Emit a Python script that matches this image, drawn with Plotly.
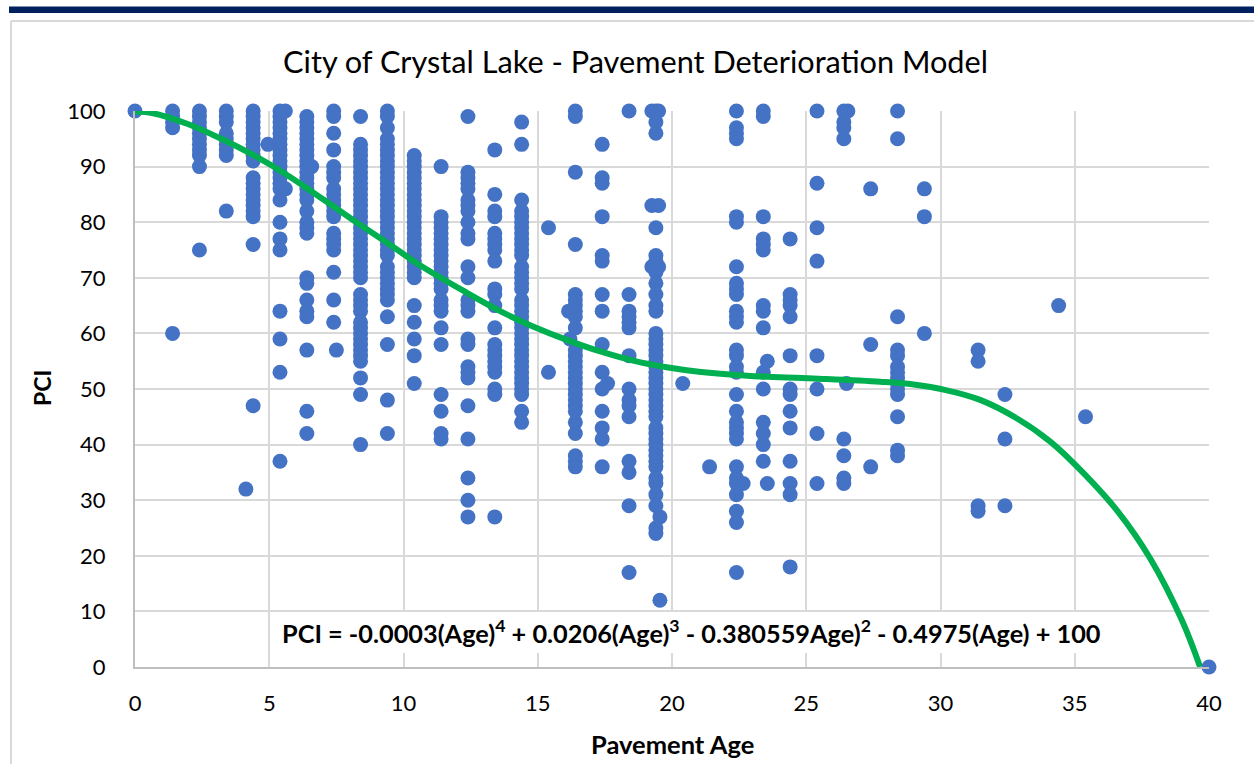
import plotly.graph_objects as go

W, H = 1254, 764
L, R, T, B = 135, 1209, 111, 667

pci_00 = [100]
pci_01 = [100, 99, 98, 97, 60]
pci_02 = [100, 99, 98, 97, 96, 95, 94, 93, 92, 90, 75]
pci_03 = [100, 99, 98, 96, 95, 94, 93, 92, 82]
pci_04 = [100, 99, 98, 97, 96, 95, 94, 93, 92, 91, 88, 87, 86, 85, 84, 83, 82, 81, 76, 47]
pci_05 = [100, 99, 98, 97, 96, 95, 94, 93, 92, 91, 90, 89, 88, 87, 86, 84, 80, 77, 75, 64, 59, 53, 37]
pci_06 = [99, 98, 97, 96, 95, 94, 93, 92, 91, 90, 89, 88, 87, 86, 85, 84, 82, 80, 79, 78, 70, 69, 66, 64, 63, 57, 46, 42]
pci_07 = [100, 99, 96, 93, 90, 89, 88, 86, 85, 84, 83, 82, 81, 78, 77, 76, 75, 71, 66, 62]
pci_08 = [99, 94, 93, 92, 91, 90, 89, 88, 87, 86, 85, 84, 83, 82, 81, 80, 79, 78, 77, 76, 75, 74, 73, 72, 71, 70, 67, 66, 65, 64, 62, 61, 60, 59, 58, 57, 56, 55, 52, 49, 40]
pci_09 = [100, 99, 97, 95, 94, 93, 92, 91, 90, 89, 88, 87, 86, 85, 84, 83, 82, 81, 80, 79, 78, 77, 76, 75, 74, 72, 71, 70, 69, 68, 67, 66, 63, 58, 48, 42]
pci_10 = [92, 91, 90, 89, 88, 87, 86, 85, 84, 83, 82, 81, 80, 79, 78, 77, 76, 75, 74, 73, 72, 71, 70, 65, 62, 59, 56, 51]
pci_11 = [90, 81, 80, 79, 78, 77, 76, 75, 74, 73, 72, 71, 70, 69, 68, 66, 65, 64, 61, 58, 49, 46, 42, 41]
pci_12 = [99, 89, 88, 87, 86, 84, 83, 82, 80, 78, 77, 72, 70, 66, 65, 64, 59, 58, 54, 53, 52, 47, 41, 34, 30, 27]
pci_13 = [93, 85, 82, 81, 78, 77, 76, 75, 73, 68, 67, 65, 61, 58, 57, 56, 55, 54, 53, 50, 49, 27]
pci_14 = [98, 94, 84, 82, 81, 80, 79, 78, 77, 76, 75, 74, 72, 71, 70, 69, 68, 66, 65, 64, 63, 62, 61, 60, 59, 58, 57, 56, 55, 54, 53, 52, 51, 50, 49, 46, 44]
pci_15 = [79, 53]
pci_16 = [100, 99, 89, 76, 67, 66, 65, 64, 63, 61, 57, 56, 55, 54, 53, 52, 51, 50, 49, 48, 47, 46, 44, 42, 38, 37, 36]
pci_17 = [94, 88, 87, 81, 74, 73, 67, 64, 58, 53, 50, 46, 43, 41, 36]
pci_18 = [100, 67, 64, 63, 62, 61, 56, 50, 48, 47, 45, 37, 35, 29, 17]
pci_19 = [100, 98, 96, 79, 74, 73, 71, 69, 67, 65, 64, 60, 59, 58, 57, 56, 55, 54, 53, 52, 51, 50, 49, 48, 47, 46, 45, 43, 42, 41, 40, 39, 38, 37, 36, 34, 33, 31, 29, 25, 24]
pci_20 = [51]
pci_21 = [36]
pci_22 = [100, 97, 96, 95, 81, 80, 72, 69, 68, 67, 64, 63, 62, 57, 56, 54, 53, 49, 46, 44, 43, 42, 41, 36, 34, 33, 31, 28, 26, 17]
pci_23 = [100, 99, 81, 77, 76, 75, 65, 64, 61, 53, 50, 44, 42, 40, 37]
pci_24 = [77, 67, 66, 65, 63, 56, 50, 49, 46, 43, 37, 33, 31, 18]
pci_25 = [100, 87, 79, 73, 56, 50, 42, 33]
pci_26 = [100, 98, 97, 95, 41, 38, 34, 33]
pci_27 = [86, 58, 36]
pci_28 = [100, 95, 63, 57, 56, 54, 53, 52, 51, 50, 49, 45, 39, 38]
pci_29 = [86, 81, 60]
pci_31 = [57, 55, 29, 28]
pci_32 = [49, 41, 29]
pci_34 = [65]
pci_35 = [45]

column_ages = [1.4, 2.4, 3.4, 4.4, 5.4, 6.4, 7.4, 8.4, 9.4, 10.4, 11.4, 12.4, 13.4, 14.4,
               15.4, 16.4, 17.4, 18.4, 19.4, 20.4, 21.4, 22.4, 23.4, 24.4, 25.4, 26.4, 27.4,
               28.4, 29.4, 31.4, 32.4, 34.4, 35.4]
column_values = [pci_01, pci_02, pci_03, pci_04, pci_05, pci_06, pci_07, pci_08, pci_09, pci_10,
                 pci_11, pci_12, pci_13, pci_14, pci_15, pci_16, pci_17, pci_18, pci_19, pci_20,
                 pci_21, pci_22, pci_23, pci_24, pci_25, pci_26, pci_27, pci_28, pci_29, pci_31,
                 pci_32, pci_34, pci_35]

# points that sit off the regular columns
extra_age = [0, 4.13, 4.95, 5.6, 5.6, 6.58, 7.5, 16.15, 16.2, 17.6, 19.25, 19.5, 19.25, 19.5, 19.25, 19.5, 19.55, 19.55, 22.65, 23.55, 23.55, 26.5, 26.55]
extra_pci = [100, 32, 94, 100, 86, 90, 57, 64, 59, 51, 72, 72, 100, 100, 83, 83, 27, 12, 33, 55, 33, 51, 100]
end_age = [40]
end_pci = [0]

trend_age = [0, 0.67, 1.94, 3.17, 4.4, 5.66, 6.89, 8.12, 9.39, 10.6, 12.36, 13.6, 14.8, 16.1, 17.3, 18.55, 19.8,
             21.0, 22.8, 25.25, 27.75, 29.0, 30.2, 31.5, 32.85, 34.1, 35.3, 36.6, 37.8, 39.0, 39.67]
trend_pci = [99.9, 99.6, 97.7, 95.1, 92.1, 88.5, 84.5, 80.4, 76.3, 72.3, 67.3, 64.0, 61.3, 58.8, 56.8, 55.1, 53.9,
             53.1, 52.4, 51.9, 51.3, 50.8, 49.8, 48.0, 44.7, 40.5, 35.0, 28.0, 19.6, 8.3, 0]

x_ticks = [0, 5, 10, 15, 20, 25, 30, 35, 40]
y_ticks = [0, 10, 20, 30, 40, 50, 60, 70, 80, 90, 100]

title_text = "City of Crystal Lake - Pavement Deterioration Model"
equation_text = "PCI = -0.0003(Age)<sup>4</sup> + 0.0206(Age)<sup>3</sup> - 0.380559Age)<sup>2</sup> - 0.4975(Age) + 100"

FONT = "Lato, Carlito, Calibri, sans-serif"
BLUE = "#4472C4"
GREEN = "#00B050"

def px(v):
    return (v - L) / (R - L)

def py(v):
    return (B - v) / (B - T)

scatter_x, scatter_y = list(extra_age), list(extra_pci)
for age, vals in zip(column_ages, column_values):
    scatter_x += [age] * len(vals)
    scatter_y += vals

marker = dict(color=BLUE, size=15, line=dict(width=0))
fig = go.Figure()
fig.add_trace(go.Scatter(x=scatter_x, y=scatter_y, mode="markers", marker=marker, cliponaxis=False, showlegend=False))
fig.add_trace(go.Scatter(x=trend_age, y=trend_pci, mode="lines", line=dict(color=GREEN, width=6, shape="spline", smoothing=1.0),
                         cliponaxis=False, showlegend=False))
fig.add_trace(go.Scatter(x=end_age, y=end_pci, mode="markers", marker=marker, cliponaxis=False, showlegend=False))

shapes = [
    dict(type="rect", xref="paper", yref="paper", x0=px(9), x1=px(1254), y0=py(13), y1=py(6.5),
         fillcolor="#002060", line=dict(width=0), layer="below"),
    dict(type="line", xref="paper", yref="paper", x0=px(11), x1=px(1254), y0=py(21), y1=py(21),
         line=dict(color="#D9D9D9", width=2), layer="below"),
    dict(type="line", xref="paper", yref="paper", x0=px(11), x1=px(11), y0=py(21), y1=py(764),
         line=dict(color="#D9D9D9", width=2), layer="below"),
    dict(type="rect", xref="paper", yref="paper", x0=px(272), x1=px(1109), y0=py(653), y1=py(612),
         fillcolor="white", line=dict(width=0), layer="above"),
]

fig.update_layout(
    width=W, height=H, autosize=False,
    margin=dict(l=L, r=W - R, t=T, b=H - B, pad=0, autoexpand=False),
    paper_bgcolor="white", plot_bgcolor="white",
    font=dict(family=FONT, color="#000000"),
    title=dict(text=title_text, x=(284 + 987) / 2 / W, xanchor="center", y=1 - 62 / H, yanchor="middle",
               font=dict(size=30.7, family=FONT, color="#000000")),
    xaxis=dict(range=[0, 40], tickvals=x_ticks, showgrid=True, gridcolor="#D9D9D9", gridwidth=2,
               zeroline=False, showline=True, linecolor="#BFBFBF", linewidth=2, ticks="",
               tickfont=dict(size=22, family=FONT), ticklabelstandoff=16, automargin=False),
    yaxis=dict(range=[0, 100], tickvals=y_ticks, showgrid=True, gridcolor="#D9D9D9", gridwidth=2,
               zeroline=False, showline=True, linecolor="#BFBFBF", linewidth=2, ticks="",
               tickfont=dict(size=22, family=FONT), ticklabelstandoff=23, automargin=False),
    shapes=shapes,
    annotations=[
        dict(text=f"<b>{equation_text}</b>", xref="paper", yref="paper", x=px(691), y=py(631),
             xanchor="center", yanchor="middle", showarrow=False,
             font=dict(size=25.3, family=FONT, color="#000000")),
        dict(text="<b>Pavement Age</b>", xref="paper", yref="paper", x=px(672), y=py(744),
             xanchor="center", yanchor="middle", showarrow=False,
             font=dict(size=25.5, family=FONT, color="#000000")),
        dict(text="<b>PCI</b>", xref="paper", yref="paper", x=px(42), y=py(388), textangle=-90,
             xanchor="center", yanchor="middle", showarrow=False,
             font=dict(size=23, family=FONT, color="#000000")),
    ],
)

fig.write_html("out.html", config=dict(displayModeBar=False),
               post_script="document.body.style.margin='0';document.body.style.overflow='hidden';")
